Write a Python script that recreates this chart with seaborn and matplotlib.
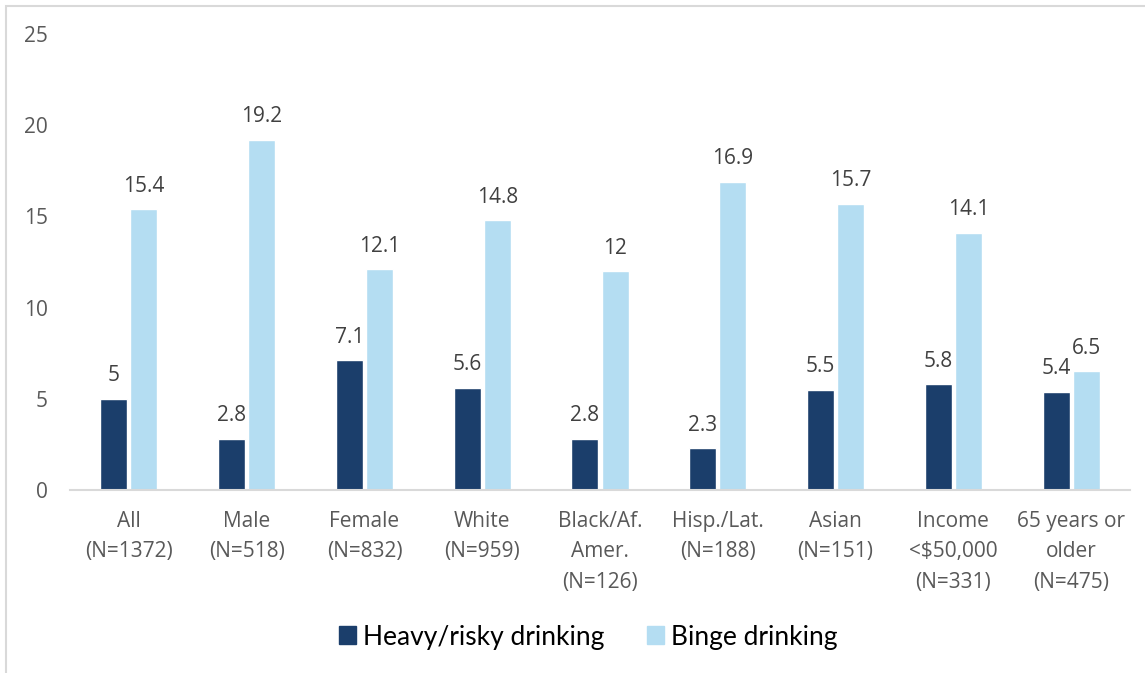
import matplotlib

matplotlib.use("Agg")
import matplotlib.pyplot as plt  # noqa: E402
import pandas as pd  # noqa: E402
import seaborn as sns  # noqa: E402
from matplotlib.patches import Rectangle  # noqa: E402

categories = [
    "All\n(N=1372)",
    "Male\n(N=518)",
    "Female\n(N=832)",
    "White\n(N=959)",
    "Black/Af.\nAmer.\n(N=126)",
    "Hisp./Lat.\n(N=188)",
    "Asian\n(N=151)",
    "Income\n<$50,000\n(N=331)",
    "65 years or\nolder\n(N=475)",
]
heavy = [5, 2.8, 7.1, 5.6, 2.8, 2.3, 5.5, 5.8, 5.4]
binge = [15.4, 19.2, 12.1, 14.8, 12, 16.9, 15.7, 14.1, 6.5]
series = ["Heavy/risky drinking", "Binge drinking"]
colors = ["#1b3e6b", "#b4ddf2"]

df = pd.DataFrame({
    "group": categories * 2,
    "value": heavy + binge,
    "series": [series[0]] * len(heavy) + [series[1]] * len(binge),
})

sns.set_style("white")
plt.rcParams["font.family"] = ["Open Sans", "DejaVu Sans"]

fig = plt.figure(figsize=(11.45, 6.73), dpi=100)
ax = fig.add_axes([70 / 1145, 1 - 490 / 673, 1060 / 1145, 456 / 673])

sns.barplot(data=df, x="group", y="value", hue="series", palette=colors,
            width=0.51, gap=0.1, ax=ax, legend=False, saturation=1)

for cont in ax.containers:
    ax.bar_label(cont, fmt="{:g}", padding=9, fontsize=15, color="#404040")

ax.set_ylim(0, 25)
ax.set_yticks([0, 5, 10, 15, 20, 25])
ax.set_xlim(-0.5, len(categories) - 0.5)
ax.set_xlabel("")
ax.set_ylabel("")
ax.tick_params(axis="y", length=0, pad=16, labelsize=15, labelcolor="#595959")
ax.tick_params(axis="x", length=0, pad=15, labelsize=15, labelcolor="#595959")
for lbl in ax.get_xticklabels():
    lbl.set_linespacing(1.6)
for s in ["top", "right", "left"]:
    ax.spines[s].set_visible(False)
ax.spines["bottom"].set_color("#d9d9d9")
ax.spines["bottom"].set_linewidth(1.5)

# outer chart frame (only top/left edges visible in the crop)
fig.patches.append(Rectangle((6 / 1145, -0.1), 1.2, 1 - 6 / 673 + 0.1,
                             transform=fig.transFigure, fill=False,
                             edgecolor="#d9d9d9", linewidth=1.5))

handles = [Rectangle((0, 0), 1, 1, color=c) for c in colors]
fig.legend(handles, series, loc="center", bbox_to_anchor=(588 / 1145, 1 - 637 / 673),
           ncol=2, frameon=False, handlelength=0.65, handleheight=0.65,
           handletextpad=0.27, columnspacing=1.6, labelcolor="black",
           prop={"family": ["Lato", "DejaVu Sans"], "size": 19})

fig.savefig("out.png", dpi=100)
